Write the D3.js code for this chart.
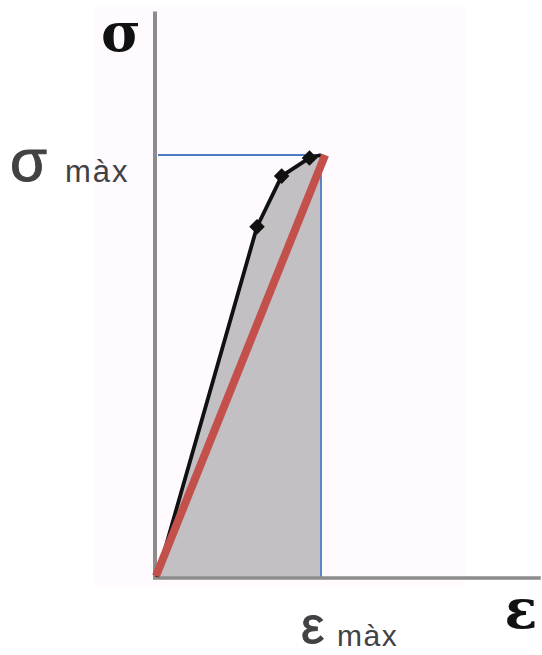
<!DOCTYPE html>
<html><head><meta charset="utf-8">
<script src="https://cdn.jsdelivr.net/npm/d3@7"></script>
<style>html,body{margin:0;padding:0;background:#fff;}svg{display:block;}</style>
</head><body>
<script>
// Data (normalised: ε/εmax, σ/σmax)
const strain = [0, 0.61, 0.76, 0.93, 1.0];
const stress = [0, 0.83, 0.95, 0.993, 1.0];
const markerIdx = [1, 2, 3];
const linearStrain = [0, 1.025];
const linearStress = [0, 1.0];
const maxStrain = 1.0, maxStress = 1.0;
const axisLabels = {y: "σ", x: "ε"};
const maxLabels = {y: ["σ", "màx"], x: ["ε", "màx"]};

const W = 542, H = 655;
const svg = d3.select("body").append("svg").attr("width", W).attr("height", H);
const x = d3.scaleLinear().domain([0, 1]).range([157, 321]);
const y = d3.scaleLinear().domain([0, 1]).range([577, 155]);

// faint background panel
svg.append("rect").attr("x", 95).attr("y", 7).attr("width", 370).attr("height", 580).attr("fill", "#fefafe");

const pts = strain.map((s, i) => [s, stress[i]]);

// gray area under curve
const area = d3.area().x(d => x(d[0])).y0(y(0)).y1(d => y(d[1]));
svg.append("path").datum(pts.concat([[maxStrain, maxStress]]))
  .attr("d", area).attr("fill", "#c2c0c3");

// blue guide lines
svg.append("line").attr("x1", x(0) + 1).attr("x2", x(maxStrain)).attr("y1", y(maxStress)).attr("y2", y(maxStress))
  .attr("stroke", "#4a7dc4").attr("stroke-width", 1.8);
svg.append("line").attr("x1", x(maxStrain)).attr("x2", x(maxStrain)).attr("y1", y(maxStress)).attr("y2", y(0))
  .attr("stroke", "#4a7dc4").attr("stroke-width", 1.8);

// axes
svg.append("line").attr("x1", x(0) - 2).attr("x2", x(0) - 2).attr("y1", y(1.34)).attr("y2", y(0) + 2)
  .attr("stroke", "#8c8c8c").attr("stroke-width", 4);
svg.append("line").attr("x1", x(0) - 4).attr("x2", x(2.34)).attr("y1", y(0) + 1).attr("y2", y(0) + 1)
  .attr("stroke", "#8c8c8c").attr("stroke-width", 3.5);

// black curve
const line = d3.line().x(d => x(d[0])).y(d => y(d[1]));
svg.append("path").datum(pts).attr("d", line).attr("fill", "none")
  .attr("stroke", "#111").attr("stroke-width", 3.8).attr("stroke-linejoin", "round");
svg.selectAll("rect.mk").data(markerIdx).enter().append("rect").attr("class", "mk")
  .attr("x", i => x(strain[i]) - 5.5).attr("y", i => y(stress[i]) - 5.5)
  .attr("width", 11).attr("height", 11).attr("fill", "#111")
  .attr("transform", i => `rotate(45 ${x(strain[i])} ${y(stress[i])})`);

// red linear line
svg.append("line").attr("x1", x(linearStrain[0]) - 1).attr("y1", y(linearStress[0]) - 1)
  .attr("x2", x(linearStrain[1])).attr("y2", y(linearStress[1]))
  .attr("stroke", "#c4504c").attr("stroke-width", 8);

// axis labels (bold serif)
svg.append("text").attr("x", 121).attr("y", 51).attr("text-anchor", "middle")
  .attr("font-family", "DejaVu Serif").attr("font-weight", "bold").attr("font-size", 54)
  .attr("fill", "#111").text(axisLabels.y);
svg.append("text").attr("x", 521).attr("y", 628).attr("text-anchor", "middle")
  .attr("font-family", "DejaVu Serif").attr("font-weight", "bold").attr("font-size", 54)
  .attr("fill", "#111").text(axisLabels.x);

// max labels
const sm = svg.append("text").attr("font-family", "Liberation Sans").attr("fill", "#414244");
sm.append("tspan").attr("x", 10).attr("y", 181).attr("font-size", 60)
  .attr("stroke", "#414244").attr("stroke-width", 1).text(maxLabels.y[0]);
sm.append("tspan").attr("x", 65).attr("y", 182).attr("font-size", 31).attr("letter-spacing", 2).text(maxLabels.y[1]);
const em = svg.append("text").attr("font-family", "Liberation Sans").attr("fill", "#414244");
em.append("tspan").attr("x", 301).attr("y", 643).attr("font-size", 52)
  .attr("stroke", "#414244").attr("stroke-width", 1).text(maxLabels.x[0]);
em.append("tspan").attr("x", 337).attr("y", 646).attr("font-size", 30).attr("letter-spacing", 1.5).text(maxLabels.x[1]);
</script>
</body></html>
